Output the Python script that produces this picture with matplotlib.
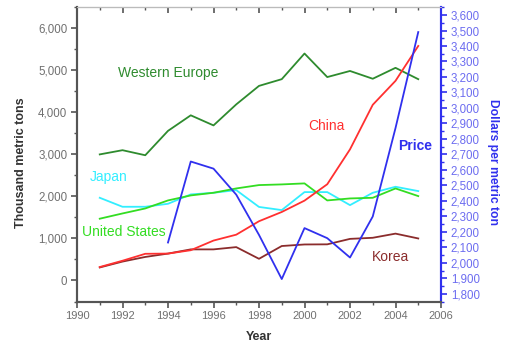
"""Aluminium(?) consumption by region vs price, 1991-2005 — two y-axes."""
import matplotlib
matplotlib.use("Agg")
import matplotlib.pyplot as plt
from matplotlib.ticker import MultipleLocator, FuncFormatter

plt.rcParams["font.family"] = ["Liberation Sans", "DejaVu Sans"]

YEARS = list(range(1991, 2006))

# thousand metric tons
W_EUROPE = [3000, 3100, 2980, 3560, 3930, 3690, 4190, 4630, 4790, 5400,
            4840, 4985, 4800, 5060, 4790]
CHINA = [320, 470, 635, 640, 720, 950, 1090, 1410, 1630, 1900,
         2290, 3120, 4180, 4750, 5580]
KOREA = [310, 450, 560, 640, 740, 740, 794, 516, 820, 857,
         860, 990, 1016, 1115, 1000]
USA = [1470, 1595, 1714, 1905, 2024, 2087, 2190, 2270, 2286, 2310,
       1905, 1952, 1968, 2190, 2008]
JAPAN = [1968, 1754, 1754, 1825, 2048, 2087, 2150, 1750, 1675, 2103,
         2103, 1793, 2087, 2230, 2127]

# dollars per metric ton
PRICE_YEARS = list(range(1994, 2006))
PRICE = [2131, 2654, 2608, 2440, 2180, 1895, 2224, 2159, 2034, 2299,
         2870, 3490]

C_WEU = "#2e8b2e"
C_CHN = "#ff3030"
C_KOR = "#8b2c2c"
C_USA = "#33dd22"
C_JPN = "#33eeff"
C_PRICE = "#3030ee"
C_AXIS = "#555555"
C_TICK = "#707070"

W, H = 514, 347
fig = plt.figure(figsize=(W / 100, H / 100), dpi=100)
ax = fig.add_axes([77 / W, (H - 301.5) / H, 364 / W, 294.2 / H])
ax2 = ax.twinx()

lw = 1.3
ax.plot(YEARS, W_EUROPE, color=C_WEU, lw=lw)
ax.plot(YEARS, JAPAN, color=C_JPN, lw=lw)
ax.plot(YEARS, USA, color=C_USA, lw=lw)
ax.plot(YEARS, KOREA, color=C_KOR, lw=lw)
ax.plot(YEARS, CHINA, color=C_CHN, lw=lw)
ax2.plot(PRICE_YEARS, PRICE, color=C_PRICE, lw=lw)

ax.set_xlim(1990, 2006)
ax.set_ylim(-500, 6500)
ax2.set_ylim(1750, 3650)

comma = FuncFormatter(lambda v, p: f"{v:,.0f}")

# left axis
ax.yaxis.set_minor_locator(MultipleLocator(500))
ax.set_yticks(range(0, 6001, 1000))
ax.yaxis.set_major_formatter(comma)
ax.tick_params(axis="y", which="major", length=4, width=1.2, color=C_AXIS,
               labelsize=8.3, labelcolor=C_TICK, pad=3)
ax.tick_params(axis="y", which="minor", length=2, width=1.0, color=C_AXIS)

# bottom axis: ticks out
ax.xaxis.set_major_locator(MultipleLocator(2))
ax.xaxis.set_minor_locator(MultipleLocator(1))
ax.tick_params(axis="x", which="major", length=4, width=1.2, color=C_AXIS,
               labelsize=8, labelcolor=C_TICK, pad=3, top=False)
ax.tick_params(axis="x", which="minor", length=2, width=1.0, color=C_AXIS,
               top=False)

# top axis: thin grey frame, ticks pointing in, no labels
top = ax.secondary_xaxis("top")
top.xaxis.set_major_locator(MultipleLocator(2))
top.xaxis.set_minor_locator(MultipleLocator(1))
top.tick_params(axis="x", which="major", direction="in", length=4, width=1.2,
                color=C_AXIS, labeltop=False)
top.tick_params(axis="x", which="minor", direction="in", length=2, width=1.0,
                color=C_AXIS)
top.spines["top"].set_color("#bbbbbb")
top.spines["top"].set_linewidth(0.8)

# right axis (price)
ax2.yaxis.set_minor_locator(MultipleLocator(50))
ax2.set_yticks(range(1800, 3601, 100))
ax2.yaxis.set_major_formatter(comma)
ax2.tick_params(axis="y", which="major", length=4, width=1.2, color=C_PRICE,
                labelsize=8.3, labelcolor="#6c6cf0", pad=3)
ax2.tick_params(axis="y", which="minor", length=2, width=1.0, color=C_PRICE)

for a in (ax, ax2):
    a.spines["left"].set_color(C_AXIS)
    a.spines["left"].set_linewidth(1.5)
    a.spines["bottom"].set_color(C_AXIS)
    a.spines["bottom"].set_linewidth(1.5)
    a.spines["top"].set_color("#bbbbbb")
    a.spines["top"].set_linewidth(0.8)
    a.spines["right"].set_color(C_PRICE)
    a.spines["right"].set_linewidth(1.5)

# series labels
fs = 10
ax.text(1991.8, 4930, "Western Europe", color=C_WEU, fontsize=fs, va="center")
ax.text(2000.15, 3667, "China", color=C_CHN, fontsize=fs, va="center")
ax.text(2004.1, 3190, "Price", color=C_PRICE, fontsize=fs, va="center",
        fontweight="bold")
ax.text(1990.57, 2452, "Japan", color=C_JPN, fontsize=fs, va="center")
ax.text(1990.22, 1143, "United States", color=C_USA, fontsize=fs, va="center")
ax.text(2002.97, 548, "Korea", color=C_KOR, fontsize=fs, va="center")

# axis titles, placed in pixel terms
fig.text(21 / W, 1 - 163 / H, "Thousand metric tons", rotation=90,
         ha="center", va="center", fontsize=9, fontweight="bold",
         color="#333333")
fig.text(259 / W, 1 - 337 / H, "Year", ha="center", va="center",
         fontsize=9, fontweight="bold", color="#333333")
fig.text(493 / W, 1 - 162 / H, "Dollars per metric ton", rotation=270,
         ha="center", va="center", fontsize=8.7, fontweight="bold",
         color=C_PRICE)

fig.savefig("out.png", dpi=100)
